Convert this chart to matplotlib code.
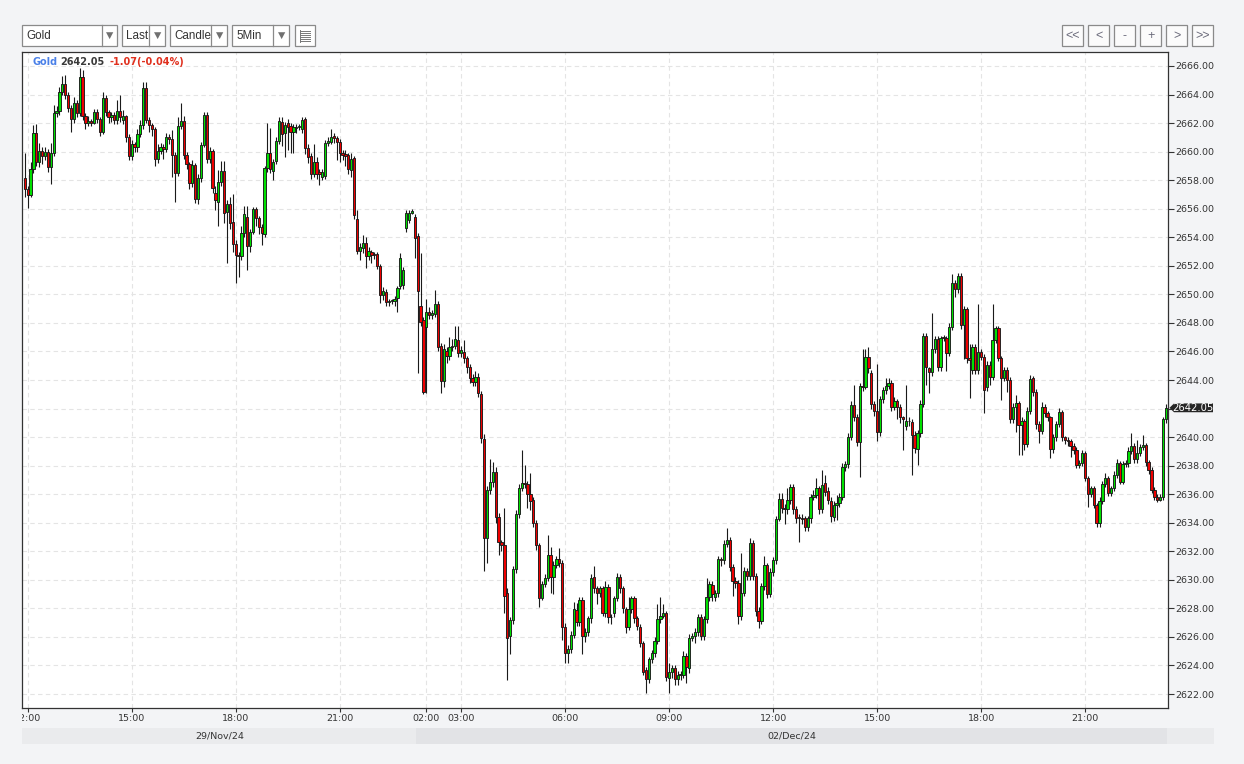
import matplotlib
matplotlib.use("Agg")
import matplotlib.pyplot as plt
import matplotlib.transforms as mtransforms
from matplotlib.patches import Rectangle, Polygon
from matplotlib.lines import Line2D
import numpy as np
import pandas as pd

# ---------------- data (5-minute candles) ----------------
opens = [
    2658.13, 2657.36, 2656.96, 2658.76, 2661.33, 2659.30, 2660.07, 2659.70, 2660.00, 2658.90,
    2659.88, 2662.68, 2662.85, 2664.20, 2664.74, 2663.97, 2663.03, 2662.26, 2663.43, 2662.68,
    2665.20, 2662.50, 2661.98, 2662.17, 2662.03, 2662.80, 2662.26, 2661.40, 2663.73, 2662.80,
    2662.40, 2662.57, 2662.22, 2662.87, 2662.20, 2662.50, 2661.00, 2659.72, 2660.53, 2660.30,
    2661.24, 2661.87, 2664.44, 2662.22, 2661.87, 2661.56, 2659.46, 2660.07, 2660.30, 2660.16,
    2661.00, 2660.86, 2659.76, 2658.48, 2661.80, 2662.17, 2659.76, 2659.13, 2657.78, 2659.06,
    2656.66, 2658.13, 2660.46, 2662.57, 2659.46, 2660.07, 2657.13, 2656.50, 2657.90, 2658.67,
    2655.75, 2656.31, 2655.10, 2653.53, 2652.74, 2652.69, 2654.28, 2655.45, 2653.39, 2654.40,
    2655.98, 2655.33, 2654.70, 2654.21, 2658.83, 2659.88, 2658.65, 2659.35, 2660.72, 2662.10,
    2661.28, 2661.99, 2661.80, 2661.35, 2661.70, 2661.75, 2661.56, 2662.27, 2660.23, 2659.70,
    2658.44, 2659.30, 2658.60, 2658.25, 2658.30, 2660.63, 2660.70, 2661.10, 2660.93, 2660.70,
    2659.93, 2659.84, 2659.77, 2658.72, 2659.53, 2655.26, 2653.06, 2653.23, 2653.58, 2652.69,
    2652.99, 2652.83, 2652.83, 2651.99, 2649.94, 2650.19, 2649.49, 2649.54, 2649.54, 2649.72,
    2650.59, 2650.66, 2654.63, 2655.21, 2655.73, 2655.40, 2654.09, 2649.19, 2648.21, 2647.74,
    2648.79, 2648.56, 2648.63, 2649.33, 2646.38, 2643.90, 2646.06, 2645.68, 2646.30, 2646.40,
    2646.80, 2645.90, 2645.99, 2645.52, 2644.89, 2644.12, 2643.88, 2644.20, 2643.05, 2639.84,
    2632.91, 2636.29, 2636.83, 2637.58, 2634.38, 2632.63, 2632.44, 2629.05, 2626.10, 2627.19,
    2630.74, 2634.60, 2636.41, 2636.80, 2636.71, 2636.01, 2635.60, 2634.00, 2632.44, 2628.70,
    2629.71, 2630.11, 2631.74, 2630.22, 2631.04, 2631.44, 2631.20, 2626.67, 2624.85, 2625.13,
    2626.14, 2627.90, 2627.07, 2628.59, 2626.06, 2626.37, 2627.30, 2630.18, 2629.40, 2629.05,
    2629.40, 2627.70, 2629.47, 2627.37, 2627.65, 2628.70, 2630.17, 2629.40, 2627.93, 2626.71,
    2627.93, 2628.70, 2627.30, 2626.71, 2625.55, 2623.68, 2623.02, 2624.43, 2624.89, 2625.73,
    2627.23, 2627.46, 2627.65, 2623.12, 2623.56, 2623.80, 2623.02, 2623.33, 2623.33, 2624.66,
    2623.80, 2625.90, 2626.06, 2626.36, 2627.37, 2626.06, 2627.23, 2628.77, 2629.63, 2628.77,
    2629.05, 2631.43, 2631.38, 2632.51, 2632.79, 2630.87, 2629.94, 2629.75, 2627.46, 2629.10,
    2630.64, 2630.29, 2632.60, 2630.26, 2627.84, 2627.13, 2629.56, 2631.03, 2629.00, 2630.57,
    2631.38, 2634.23, 2635.63, 2635.00, 2634.93, 2635.59, 2636.48, 2634.93, 2634.37, 2634.30,
    2634.30, 2633.67, 2634.30, 2635.82, 2635.94, 2636.41, 2634.93, 2636.76, 2636.24, 2635.54,
    2634.43, 2635.25, 2635.36, 2635.83, 2637.90, 2638.10, 2640.03, 2642.25, 2641.43, 2639.68,
    2643.58, 2643.49, 2645.59, 2644.50, 2642.32, 2641.85, 2640.38, 2642.65, 2643.30, 2643.58,
    2643.82, 2642.13, 2642.55, 2642.08, 2641.39, 2640.78, 2641.15, 2641.08, 2640.15, 2639.14,
    2640.27, 2642.32, 2647.09, 2644.82, 2644.59, 2646.15, 2646.85, 2644.89, 2647.04, 2646.92,
    2645.92, 2647.74, 2650.78, 2650.35, 2651.29, 2647.86, 2648.95, 2645.52, 2644.70, 2646.29,
    2644.70, 2645.99, 2645.64, 2643.49, 2645.05, 2644.24, 2646.80, 2647.62, 2645.52, 2644.12,
    2644.70, 2644.00, 2641.25, 2642.13, 2642.37, 2640.85, 2641.15, 2639.51, 2641.85, 2644.12,
    2643.18, 2640.92, 2640.45, 2642.08, 2641.71, 2641.38, 2639.14, 2639.98, 2640.92, 2641.78,
    2639.98, 2639.80, 2639.75, 2639.38, 2639.10, 2638.04, 2638.21, 2638.86, 2637.11, 2636.01,
    2636.41, 2635.24, 2633.96, 2635.55, 2636.71, 2637.11, 2636.11, 2636.41, 2637.34, 2638.16,
    2636.88, 2638.11, 2638.16, 2639.05, 2639.38, 2638.44, 2638.91, 2639.28, 2639.45, 2638.28,
    2637.69, 2636.29, 2635.83, 2635.59, 2635.83, 2641.24,
]
highs = [
    2659.88, 2657.60, 2659.30, 2661.87, 2661.90, 2660.60, 2660.30, 2660.30, 2660.20, 2660.60,
    2663.27, 2663.20, 2664.50, 2665.30, 2665.37, 2664.20, 2663.30, 2663.80, 2663.60, 2665.84,
    2665.70, 2662.70, 2662.50, 2662.30, 2663.00, 2663.00, 2662.40, 2664.20, 2664.00, 2662.90,
    2662.80, 2662.80, 2663.62, 2663.97, 2662.90, 2662.60, 2661.20, 2660.80, 2660.70, 2661.60,
    2662.20, 2664.90, 2664.90, 2662.40, 2662.00, 2661.70, 2660.50, 2660.60, 2660.50, 2661.30,
    2661.20, 2661.50, 2660.00, 2662.45, 2663.38, 2662.50, 2660.00, 2659.30, 2659.40, 2659.20,
    2658.40, 2660.70, 2662.80, 2662.80, 2660.30, 2660.20, 2657.60, 2658.70, 2659.35, 2659.35,
    2656.60, 2656.80, 2657.00, 2653.80, 2653.00, 2654.80, 2656.19, 2656.19, 2654.60, 2656.15,
    2656.15, 2655.50, 2654.90, 2659.00, 2661.99, 2661.63, 2659.50, 2661.00, 2662.40, 2662.40,
    2662.10, 2662.30, 2662.00, 2661.90, 2661.90, 2661.90, 2662.40, 2662.40, 2660.50, 2659.90,
    2660.50, 2659.60, 2658.80, 2658.80, 2660.80, 2661.00, 2661.56, 2661.30, 2661.10, 2660.90,
    2660.10, 2660.12, 2659.90, 2659.90, 2659.70, 2655.90, 2653.60, 2654.16, 2654.00, 2653.30,
    2653.10, 2653.00, 2653.00, 2652.10, 2650.50, 2650.40, 2649.70, 2649.70, 2649.90, 2650.60,
    2652.92, 2651.90, 2655.90, 2655.90, 2656.00, 2655.60, 2654.30, 2652.88, 2648.40, 2649.65,
    2649.10, 2648.90, 2650.30, 2649.50, 2646.60, 2646.50, 2646.30, 2647.00, 2646.90, 2647.78,
    2647.80, 2646.40, 2646.80, 2645.70, 2645.10, 2644.40, 2644.60, 2644.50, 2643.20, 2640.20,
    2636.60, 2638.44, 2638.28, 2637.90, 2634.70, 2632.80, 2635.00, 2629.40, 2627.40, 2631.00,
    2634.90, 2636.70, 2639.10, 2638.04, 2636.90, 2637.50, 2635.80, 2634.20, 2632.60, 2629.90,
    2630.40, 2633.14, 2632.32, 2631.30, 2631.70, 2632.21, 2631.40, 2627.00, 2625.40, 2626.40,
    2628.47, 2628.35, 2628.80, 2628.80, 2626.60, 2627.50, 2630.40, 2630.99, 2629.60, 2629.60,
    2629.60, 2629.90, 2629.70, 2627.60, 2628.90, 2630.50, 2630.40, 2629.60, 2628.10, 2628.77,
    2628.90, 2628.90, 2627.50, 2626.90, 2625.70, 2623.90, 2624.60, 2625.10, 2626.00, 2628.30,
    2628.80, 2628.30, 2627.80, 2624.15, 2624.00, 2624.00, 2623.60, 2623.60, 2625.00, 2624.90,
    2626.20, 2626.30, 2626.60, 2627.60, 2627.60, 2627.50, 2630.10, 2629.90, 2629.90, 2629.30,
    2631.70, 2631.60, 2632.80, 2633.60, 2633.00, 2631.10, 2630.20, 2630.00, 2631.90, 2630.90,
    2630.80, 2632.90, 2632.80, 2630.50, 2628.10, 2629.80, 2631.67, 2631.20, 2630.80, 2631.60,
    2634.50, 2636.10, 2636.10, 2635.30, 2636.40, 2636.70, 2636.70, 2635.20, 2634.60, 2634.60,
    2634.50, 2634.50, 2636.00, 2636.30, 2637.10, 2636.60, 2637.69, 2637.34, 2636.50, 2635.80,
    2635.50, 2635.95, 2636.10, 2638.20, 2638.30, 2640.30, 2642.50, 2643.65, 2641.60, 2643.80,
    2646.15, 2646.15, 2646.29, 2644.70, 2642.50, 2645.12, 2642.90, 2643.50, 2644.12, 2644.12,
    2644.00, 2642.80, 2642.70, 2642.30, 2641.50, 2643.65, 2641.40, 2641.30, 2640.40, 2640.50,
    2642.60, 2647.30, 2647.30, 2644.90, 2648.72, 2647.10, 2647.10, 2647.10, 2647.16, 2647.10,
    2647.97, 2651.43, 2651.00, 2651.52, 2651.50, 2649.20, 2649.10, 2646.50, 2646.50, 2646.50,
    2649.33, 2646.20, 2645.80, 2645.30, 2645.30, 2649.33, 2647.80, 2647.80, 2645.70, 2644.90,
    2644.90, 2644.20, 2642.40, 2642.95, 2642.50, 2641.40, 2641.30, 2642.10, 2644.35, 2644.28,
    2643.40, 2641.10, 2642.48, 2642.30, 2641.80, 2641.50, 2640.20, 2641.10, 2642.01, 2641.90,
    2640.10, 2640.00, 2639.90, 2639.60, 2639.30, 2638.40, 2639.10, 2639.00, 2637.30, 2636.60,
    2636.60, 2635.40, 2635.80, 2636.90, 2637.50, 2637.30, 2636.60, 2637.60, 2638.44, 2638.30,
    2638.30, 2638.40, 2639.30, 2640.26, 2639.60, 2639.80, 2639.50, 2640.15, 2639.60, 2638.40,
    2637.90, 2636.50, 2636.00, 2636.00, 2641.40, 2642.32,
]
lows = [
    2656.85, 2656.03, 2656.80, 2658.50, 2659.00, 2658.90, 2659.10, 2659.40, 2658.60, 2657.73,
    2659.70, 2662.40, 2662.60, 2664.00, 2663.70, 2662.80, 2661.40, 2662.00, 2662.40, 2662.50,
    2662.20, 2661.60, 2661.80, 2661.80, 2661.90, 2662.00, 2661.10, 2661.20, 2662.50, 2662.00,
    2662.10, 2661.90, 2661.90, 2662.10, 2661.90, 2660.70, 2659.40, 2659.40, 2660.00, 2660.00,
    2661.00, 2661.60, 2662.00, 2661.40, 2661.10, 2659.00, 2659.20, 2659.80, 2659.50, 2660.00,
    2660.50, 2658.25, 2656.50, 2658.30, 2661.60, 2659.50, 2658.80, 2657.40, 2657.50, 2656.40,
    2656.33, 2657.90, 2660.30, 2659.20, 2659.20, 2657.10, 2655.90, 2654.80, 2657.60, 2655.00,
    2652.18, 2654.60, 2653.00, 2650.78, 2651.20, 2652.40, 2654.00, 2651.71, 2653.00, 2654.20,
    2654.80, 2654.20, 2653.46, 2654.00, 2658.60, 2658.50, 2658.02, 2659.10, 2660.50, 2660.40,
    2659.65, 2660.10, 2659.90, 2659.90, 2661.30, 2661.50, 2661.30, 2659.80, 2659.20, 2658.10,
    2658.20, 2658.10, 2657.66, 2658.00, 2658.10, 2660.40, 2660.50, 2660.60, 2659.40, 2659.30,
    2659.40, 2659.00, 2658.40, 2658.20, 2655.30, 2652.80, 2652.40, 2652.90, 2651.87, 2652.40,
    2652.20, 2652.50, 2651.80, 2649.40, 2649.60, 2649.20, 2649.20, 2649.30, 2649.20, 2648.79,
    2650.40, 2650.40, 2654.40, 2655.00, 2655.60, 2652.53, 2644.47, 2647.80, 2643.00, 2643.07,
    2648.30, 2648.30, 2648.40, 2646.00, 2643.10, 2643.50, 2645.20, 2645.40, 2646.00, 2646.20,
    2645.60, 2645.60, 2645.20, 2644.50, 2643.80, 2643.60, 2643.60, 2642.80, 2639.60, 2630.64,
    2631.15, 2636.00, 2636.50, 2634.00, 2631.74, 2632.00, 2627.65, 2623.00, 2624.80, 2626.90,
    2630.50, 2634.30, 2636.20, 2636.40, 2635.00, 2634.90, 2633.70, 2632.10, 2628.10, 2628.60,
    2629.50, 2629.90, 2629.05, 2629.00, 2630.80, 2630.90, 2625.80, 2624.15, 2624.20, 2624.90,
    2625.90, 2626.80, 2626.80, 2624.78, 2625.67, 2626.10, 2627.00, 2629.10, 2628.30, 2628.80,
    2627.47, 2627.40, 2627.00, 2626.90, 2627.40, 2628.50, 2629.10, 2627.70, 2626.25, 2626.50,
    2627.70, 2627.00, 2626.50, 2625.30, 2623.30, 2622.09, 2622.80, 2624.20, 2624.60, 2625.50,
    2627.00, 2627.30, 2622.90, 2622.04, 2623.10, 2622.60, 2622.63, 2623.00, 2623.10, 2622.74,
    2623.50, 2625.70, 2625.55, 2626.10, 2625.80, 2625.80, 2627.00, 2628.50, 2628.50, 2628.54,
    2628.80, 2631.00, 2631.10, 2632.30, 2630.60, 2628.86, 2629.40, 2626.90, 2627.20, 2628.90,
    2630.00, 2630.00, 2630.00, 2627.50, 2626.60, 2626.90, 2629.30, 2628.70, 2628.80, 2630.30,
    2631.10, 2634.14, 2634.70, 2633.90, 2634.60, 2635.30, 2634.60, 2634.00, 2632.67, 2633.90,
    2633.40, 2633.40, 2634.00, 2635.60, 2635.70, 2634.60, 2634.70, 2635.90, 2635.30, 2634.07,
    2634.10, 2634.20, 2635.10, 2635.60, 2637.60, 2637.80, 2639.80, 2641.10, 2639.40, 2637.18,
    2643.20, 2643.35, 2644.50, 2642.00, 2641.50, 2639.75, 2640.10, 2642.40, 2643.00, 2643.40,
    2641.85, 2641.90, 2641.30, 2641.00, 2639.10, 2640.50, 2640.80, 2637.35, 2638.90, 2638.05,
    2640.00, 2642.10, 2643.65, 2643.10, 2644.30, 2645.90, 2644.60, 2644.60, 2646.70, 2644.66,
    2645.70, 2647.50, 2649.84, 2650.10, 2647.60, 2645.45, 2645.20, 2642.72, 2644.40, 2644.40,
    2644.40, 2645.40, 2641.67, 2643.20, 2643.65, 2644.00, 2646.60, 2645.30, 2642.60, 2643.90,
    2643.19, 2641.00, 2641.00, 2640.38, 2638.75, 2638.74, 2639.10, 2639.30, 2641.60, 2642.90,
    2640.60, 2639.56, 2640.20, 2641.40, 2641.10, 2638.51, 2638.90, 2639.70, 2640.70, 2639.70,
    2639.50, 2639.40, 2638.63, 2638.80, 2637.80, 2637.80, 2638.00, 2636.90, 2635.12, 2635.80,
    2635.00, 2633.72, 2633.70, 2635.30, 2636.50, 2635.90, 2635.90, 2636.20, 2637.10, 2636.70,
    2636.70, 2637.90, 2637.90, 2638.80, 2638.20, 2638.20, 2638.70, 2639.10, 2638.00, 2637.40,
    2636.10, 2635.60, 2635.48, 2635.50, 2635.60, 2641.00,
]
closes = [
    2657.36, 2656.96, 2658.76, 2661.28, 2659.30, 2660.07, 2659.70, 2660.00, 2658.90, 2659.88,
    2662.68, 2662.85, 2664.20, 2664.74, 2663.97, 2663.03, 2662.26, 2663.43, 2662.68, 2665.20,
    2662.50, 2661.98, 2662.17, 2662.03, 2662.80, 2662.26, 2661.40, 2663.73, 2662.80, 2662.40,
    2662.57, 2662.22, 2662.87, 2662.45, 2662.50, 2661.00, 2659.72, 2660.53, 2660.30, 2661.24,
    2661.87, 2664.44, 2662.22, 2661.87, 2661.56, 2659.46, 2660.07, 2660.30, 2660.16, 2661.00,
    2660.86, 2659.76, 2658.48, 2661.80, 2662.17, 2659.76, 2659.13, 2657.78, 2659.06, 2656.66,
    2658.13, 2660.46, 2662.57, 2659.46, 2660.07, 2657.43, 2656.60, 2657.90, 2658.67, 2655.68,
    2656.33, 2655.03, 2653.53, 2652.74, 2652.69, 2654.28, 2655.61, 2653.39, 2654.40, 2655.98,
    2655.33, 2654.70, 2654.28, 2658.83, 2659.88, 2658.76, 2659.25, 2660.77, 2662.17, 2661.24,
    2661.87, 2661.75, 2661.35, 2661.70, 2661.66, 2661.75, 2662.22, 2660.28, 2659.65, 2658.44,
    2659.30, 2658.44, 2658.41, 2658.60, 2660.58, 2660.77, 2661.00, 2660.98, 2660.70, 2659.88,
    2659.77, 2659.72, 2658.76, 2659.46, 2655.56, 2653.04, 2653.34, 2653.62, 2652.69, 2653.06,
    2652.76, 2652.76, 2651.99, 2649.94, 2650.24, 2649.49, 2649.49, 2649.54, 2649.65, 2650.43,
    2652.53, 2651.71, 2655.73, 2655.73, 2655.87, 2653.93, 2650.24, 2648.09, 2643.14, 2648.74,
    2648.56, 2648.67, 2649.33, 2646.34, 2643.90, 2646.20, 2645.68, 2646.30, 2646.40, 2646.85,
    2645.90, 2646.10, 2645.52, 2644.89, 2644.12, 2643.88, 2644.20, 2643.10, 2639.91, 2632.91,
    2636.29, 2636.83, 2637.58, 2634.38, 2632.67, 2632.44, 2628.87, 2625.90, 2627.19, 2630.74,
    2634.60, 2636.41, 2636.80, 2636.71, 2636.01, 2635.55, 2634.00, 2632.44, 2628.70, 2629.71,
    2630.11, 2631.74, 2630.22, 2631.04, 2631.44, 2631.15, 2626.67, 2624.85, 2625.13, 2626.14,
    2627.93, 2627.07, 2628.59, 2626.06, 2626.37, 2627.30, 2630.11, 2629.40, 2629.05, 2629.40,
    2627.70, 2629.47, 2627.37, 2627.42, 2628.70, 2630.17, 2629.40, 2628.00, 2626.71, 2627.93,
    2628.70, 2627.30, 2626.76, 2625.55, 2623.56, 2623.02, 2624.43, 2624.89, 2625.73, 2627.23,
    2627.46, 2627.65, 2623.17, 2623.56, 2623.80, 2623.02, 2623.33, 2623.40, 2624.66, 2623.87,
    2625.90, 2626.06, 2626.36, 2627.37, 2626.06, 2627.23, 2628.77, 2629.70, 2629.00, 2629.05,
    2631.43, 2631.38, 2632.51, 2632.79, 2630.87, 2629.94, 2629.75, 2627.46, 2629.10, 2630.64,
    2630.29, 2632.60, 2630.26, 2627.84, 2627.13, 2629.56, 2631.03, 2629.00, 2630.57, 2631.38,
    2634.23, 2635.63, 2635.00, 2634.93, 2635.59, 2636.48, 2634.93, 2634.30, 2634.30, 2634.25,
    2633.67, 2634.30, 2635.82, 2635.94, 2636.41, 2634.93, 2636.64, 2636.17, 2635.59, 2634.47,
    2635.25, 2635.36, 2635.83, 2637.93, 2638.10, 2640.03, 2642.25, 2641.43, 2639.68, 2643.58,
    2643.49, 2645.59, 2644.82, 2642.32, 2641.85, 2640.38, 2642.65, 2643.30, 2643.58, 2643.82,
    2642.13, 2642.55, 2642.08, 2641.39, 2641.25, 2641.15, 2641.10, 2640.15, 2639.22, 2640.27,
    2642.32, 2647.09, 2644.89, 2644.59, 2646.15, 2646.85, 2644.89, 2646.92, 2646.92, 2645.92,
    2647.74, 2650.78, 2650.35, 2651.29, 2647.86, 2648.95, 2645.52, 2645.40, 2646.29, 2644.70,
    2645.99, 2645.64, 2643.30, 2645.05, 2644.24, 2646.80, 2647.62, 2645.52, 2644.12, 2644.70,
    2644.00, 2641.25, 2642.13, 2642.37, 2640.85, 2641.15, 2639.51, 2641.85, 2644.05, 2643.18,
    2640.92, 2640.45, 2642.08, 2641.71, 2641.38, 2639.14, 2639.98, 2640.92, 2641.78, 2639.98,
    2639.80, 2639.75, 2639.38, 2639.10, 2638.04, 2638.21, 2638.86, 2637.11, 2636.01, 2636.41,
    2635.24, 2633.96, 2635.55, 2636.71, 2637.11, 2636.11, 2636.41, 2637.34, 2638.16, 2636.88,
    2638.11, 2638.16, 2639.05, 2639.38, 2638.44, 2638.91, 2639.28, 2639.45, 2638.28, 2637.69,
    2636.29, 2635.83, 2635.59, 2635.83, 2641.24, 2642.05,
]

instrument = "Gold"
prev_close = 2643.12
session_starts = ["2024-11-29 11:55", "2024-12-02 01:45"]
first_session_len = 136
tick_times = ["2024-11-29 12:00", "2024-11-29 15:00", "2024-11-29 18:00", "2024-11-29 21:00",
              "2024-12-02 02:00", "2024-12-02 03:00", "2024-12-02 06:00", "2024-12-02 09:00",
              "2024-12-02 12:00", "2024-12-02 15:00", "2024-12-02 18:00", "2024-12-02 21:00"]
price_ticks = list(range(2622, 2667, 2))
toolbar_items = ["Gold", "Last", "Candle", "5Min"]
nav_buttons = ["<<", "<", "-", "+", ">", ">>"]

# ---------------- figure ----------------
W, H = 1244, 764
BG = "#f3f4f6"
fig = plt.figure(figsize=(W / 100, H / 100), dpi=100, facecolor=BG)


def fx(px):
    return px / W


def fy(py):
    return 1 - py / H


def rect(x0, y0, x1, y1, **kw):
    r = Rectangle((fx(x0), fy(y1)), (x1 - x0) / W, (y1 - y0) / H,
                  transform=fig.transFigure, **kw)
    fig.add_artist(r)
    return r


AX_L, AX_R, AX_T, AX_B = 22.3, 1168.3, 51.7, 708.3
ax = fig.add_axes([fx(AX_L), fy(AX_B), (AX_R - AX_L) / W, (AX_B - AX_T) / H])
ax.set_facecolor("white")

n = min(len(opens), len(highs), len(lows), len(closes))
o = np.array(opens[:n])
c = np.array(closes[:n])
hi = np.maximum(np.array(highs[:n]), np.maximum(o, c))
lo = np.minimum(np.array(lows[:n]), np.minimum(o, c))
x = np.arange(n)
up = c >= o

ax.vlines(x, lo, hi, color="#1a1a1a", linewidth=0.8, zorder=2)
ax.bar(x, np.maximum(np.abs(c - o), 0.03), bottom=np.minimum(o, c), width=0.78,
       color=np.where(up, "#00e000", "#ee0000"), edgecolor="#1a1a1a",
       linewidth=0.65, zorder=3)

# candle i sits at pixel 24.8 + 2.889*i
step, x0px = 2.889, 24.8
ax.set_xlim((AX_L - x0px) / step, (AX_R - x0px) / step)
ax.set_ylim(2621.0, 2667.0)

times = pd.DatetimeIndex(list(pd.date_range(session_starts[0], periods=first_session_len, freq="5min")) +
                         list(pd.date_range(session_starts[1], periods=n - first_session_len, freq="5min")))
tick_pos = [times.get_loc(pd.Timestamp(t)) for t in tick_times]
tick_lbl = [pd.Timestamp(t).strftime("%H:%M") for t in tick_times]

ax.set_xticks(tick_pos)
ax.set_xticklabels([])
ax.yaxis.tick_right()
ax.set_yticks(price_ticks)
last = c[-1]
ax.set_yticklabels(["" if abs(p - last) < 0.6 else f"{p:.2f}" for p in price_ticks])
ax.tick_params(axis="x", length=3, width=0.8, color="#333333")
ax.tick_params(axis="y", length=4, width=0.8, color="#333333", labelcolor="#333333",
               labelsize=6.8, pad=1.2)
ax.grid(True, color="#e4e4e4", linestyle=(0, (4, 3)), linewidth=0.8)
ax.set_axisbelow(True)
for s in ax.spines.values():
    s.set_color("#333333")
    s.set_linewidth(0.9)

# time labels (first one clipped at the plot's left edge)
blend = mtransforms.blended_transform_factory(ax.transData, fig.transFigure)
clipbox = mtransforms.Bbox.from_extents(AX_L, 0, W, H)
for p, s in zip(tick_pos, tick_lbl):
    t = fig.text(p, fy(718.5), s, transform=blend, ha="center", va="center",
                 fontsize=6.8, color="#333333")
    t.set_clip_on(True)
    t.set_clip_box(clipbox)

# date bands
boundary = ax.transData.transform((first_session_len - 0.5, 0))[0]
rect(AX_L, 727.7, boundary, 743.7, facecolor="#eaebed", edgecolor="none")
rect(boundary, 727.7, 1167.0, 743.7, facecolor="#e2e3e6", edgecolor="none")
rect(1167.0, 727.7, 1214.0, 743.7, facecolor="#eaebed", edgecolor="none")
fig.text(fx((AX_L + boundary) / 2), fy(735.7), times[0].strftime("%d/%b/%y"),
         ha="center", va="center", fontsize=6.8, color="#333333")
fig.text(fx((boundary + 1167.0) / 2), fy(735.7), times[-1].strftime("%d/%b/%y"),
         ha="center", va="center", fontsize=6.8, color="#333333")

# header inside the plot
chg = last - prev_close
pct = chg / prev_close * 100
fig.text(fx(32.7), fy(62.3), instrument, color="#4a80e8", fontsize=7, fontweight="bold", va="center")
fig.text(fx(60.7), fy(62.3), f"{last:.2f}", color="#3a3a3a", fontsize=7, fontweight="bold", va="center")
fig.text(fx(109.3), fy(62.3), f"{chg:.2f}({pct:.2f}%)", color="#e0301e", fontsize=7,
         fontweight="bold", va="center")

# last-price tag
py = H - ax.transData.transform((0, last))[1]
pts = [(1169.5, py), (1174.0, py - 4.4), (1213.0, py - 4.4), (1213.0, py + 4.4), (1174.0, py + 4.4)]
tag = Polygon([(fx(a), fy(b)) for a, b in pts], closed=True, transform=fig.transFigure,
              facecolor="#262626", edgecolor="none", zorder=5)
fig.add_artist(tag)
fig.text(fx(1193.3), fy(py + 0.2), f"{last:.2f}", color="white", fontsize=7.2,
         ha="center", va="center", zorder=6)

# toolbar (dropdowns)
boxes = [(22.3, 117.3, 101.7), (122.3, 165.3, 149.3), (170.3, 227.0, 211.3), (232.3, 289.3, 273.3)]
for (bx0, bx1, bdiv), label in zip(boxes, toolbar_items):
    rect(bx0, 25, bx1, 46, facecolor="white", edgecolor="#8a8a8a", linewidth=0.9)
    fig.add_artist(Line2D([fx(bdiv), fx(bdiv)], [fy(25), fy(46)], transform=fig.transFigure,
                          color="#8a8a8a", linewidth=0.9))
    fig.text(fx(bx0 + 4), fy(36), label, fontsize=8.4, family="Liberation Sans",
             color="#333333", va="center", ha="left")
    fig.text(fx((bdiv + bx1) / 2), fy(35.5), "\u25bc", fontsize=6.8, color="#707070",
             va="center", ha="center")
rect(294.7, 25, 315.3, 46, facecolor="white", edgecolor="#8a8a8a", linewidth=0.9)
for yy in [30.5, 32.5, 34.5, 36.5, 38.5, 40.5]:
    for xa, xb in [(300, 303.5), (305, 309.5)]:
        fig.add_artist(Line2D([fx(xa), fx(xb)], [fy(yy), fy(yy)], transform=fig.transFigure,
                              color="#777777", linewidth=0.7))
fig.add_artist(Line2D([fx(299.5), fx(299.5)], [fy(29.5), fy(41.5)], transform=fig.transFigure,
                      color="#777777", linewidth=0.7))

# navigation buttons
for k, lab in enumerate(nav_buttons):
    bx0 = 1062.3 + k * 26.0
    rect(bx0, 25, bx0 + 21, 46, facecolor="#fbfbfb", edgecolor="#8a8a8a", linewidth=0.9)
    fig.text(fx(bx0 + 10.5), fy(36), lab, fontsize=9, color="#6a6a7a", family="Liberation Sans",
             ha="center", va="center")

fig.savefig("out.png", dpi=100, facecolor=BG)
